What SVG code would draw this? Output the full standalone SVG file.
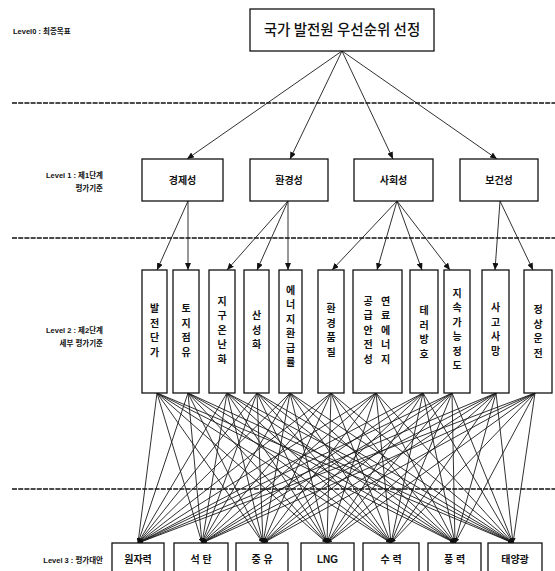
<svg xmlns="http://www.w3.org/2000/svg" width="555" height="571" viewBox="0 0 555 571">
<defs>
<style>
.box{fill:#fff;stroke:#111;stroke-width:1.3}
.sep{stroke:#111;stroke-width:1.7;stroke-dasharray:5 1.2;fill:none}
.c{stroke:#1a1a1a;stroke-width:0.9;fill:none}
.lv{font-family:"Liberation Sans","Noto Sans CJK KR",sans-serif;font-size:7.5px;font-weight:bold;fill:#111}
.t0{font-family:"Noto Sans CJK KR",sans-serif;font-size:14.5px;font-weight:500;fill:#111;text-anchor:middle}
.t1{font-family:"Noto Sans CJK KR",sans-serif;font-size:10px;font-weight:bold;fill:#111;text-anchor:middle}
.t2{font-family:"Noto Sans CJK KR",sans-serif;font-size:10px;font-weight:bold;fill:#111;text-anchor:middle}
.t3{font-family:"Liberation Sans","Noto Sans CJK KR",sans-serif;font-size:10px;font-weight:bold;fill:#111;text-anchor:middle}
</style>
<marker id="ah" markerWidth="7" markerHeight="6" refX="7" refY="3" orient="auto" markerUnits="userSpaceOnUse">
<path d="M0,0 L7,3 L0,6 Z" fill="#111"/>
</marker>
<marker id="as" markerWidth="5" markerHeight="4" refX="5" refY="2" orient="auto" markerUnits="userSpaceOnUse">
<path d="M0,0 L5,2 L0,4 Z" fill="#111"/>
</marker>
</defs>
<rect width="555" height="571" fill="#fff"/>

<g id="separators">
<line class="sep" x1="12" y1="103" x2="555" y2="103"/>
<line class="sep" x1="12" y1="238" x2="555" y2="238"/>
<line class="sep" x1="12" y1="489" x2="555" y2="489"/>
</g>

<g id="level-labels">
<text class="lv" x="13" y="34">Level0 : 최종목표</text>
<text class="lv" x="103" y="178" text-anchor="end">Level 1 : 제1단계</text>
<text class="lv" x="103" y="191" text-anchor="end">평가기준</text>
<text class="lv" x="103" y="333" text-anchor="end">Level 2 : 제2단계</text>
<text class="lv" x="103" y="346" text-anchor="end">세부 평가기준</text>
<text class="lv" x="103" y="563" text-anchor="end">Level 3 : 평가대안</text>
</g>

<g id="connectors">
<g marker-end="url(#ah)">
<line class="c" x1="342" y1="51" x2="187" y2="159"/>
<line class="c" x1="342" y1="51" x2="290" y2="159"/>
<line class="c" x1="342" y1="51" x2="393" y2="159"/>
<line class="c" x1="342" y1="51" x2="497" y2="159"/>
<line class="c" x1="188" y1="201" x2="157" y2="270"/>
<line class="c" x1="188" y1="201" x2="188" y2="270"/>
<line class="c" x1="288" y1="201" x2="227" y2="270"/>
<line class="c" x1="288" y1="201" x2="257" y2="270"/>
<line class="c" x1="288" y1="201" x2="288" y2="270"/>
<line class="c" x1="397" y1="201" x2="332" y2="270"/>
<line class="c" x1="397" y1="201" x2="377" y2="270"/>
<line class="c" x1="397" y1="201" x2="422" y2="270"/>
<line class="c" x1="397" y1="201" x2="450" y2="270"/>
<line class="c" x1="500" y1="201" x2="495" y2="270"/>
<line class="c" x1="500" y1="201" x2="533" y2="270"/>
</g>
<g marker-end="url(#as)">
<line class="c" x1="157" y1="393" x2="138" y2="543"/><line class="c" x1="157" y1="393" x2="202" y2="543"/><line class="c" x1="157" y1="393" x2="263" y2="543"/><line class="c" x1="157" y1="393" x2="327" y2="543"/><line class="c" x1="157" y1="393" x2="391" y2="543"/><line class="c" x1="157" y1="393" x2="455" y2="543"/><line class="c" x1="157" y1="393" x2="513" y2="543"/>
<line class="c" x1="188" y1="393" x2="138" y2="543"/><line class="c" x1="188" y1="393" x2="202" y2="543"/><line class="c" x1="188" y1="393" x2="263" y2="543"/><line class="c" x1="188" y1="393" x2="327" y2="543"/><line class="c" x1="188" y1="393" x2="391" y2="543"/><line class="c" x1="188" y1="393" x2="455" y2="543"/><line class="c" x1="188" y1="393" x2="513" y2="543"/>
<line class="c" x1="227" y1="393" x2="138" y2="543"/><line class="c" x1="227" y1="393" x2="202" y2="543"/><line class="c" x1="227" y1="393" x2="263" y2="543"/><line class="c" x1="227" y1="393" x2="327" y2="543"/><line class="c" x1="227" y1="393" x2="391" y2="543"/><line class="c" x1="227" y1="393" x2="455" y2="543"/><line class="c" x1="227" y1="393" x2="513" y2="543"/>
<line class="c" x1="257" y1="393" x2="138" y2="543"/><line class="c" x1="257" y1="393" x2="202" y2="543"/><line class="c" x1="257" y1="393" x2="263" y2="543"/><line class="c" x1="257" y1="393" x2="327" y2="543"/><line class="c" x1="257" y1="393" x2="391" y2="543"/><line class="c" x1="257" y1="393" x2="455" y2="543"/><line class="c" x1="257" y1="393" x2="513" y2="543"/>
<line class="c" x1="290" y1="393" x2="138" y2="543"/><line class="c" x1="290" y1="393" x2="202" y2="543"/><line class="c" x1="290" y1="393" x2="263" y2="543"/><line class="c" x1="290" y1="393" x2="327" y2="543"/><line class="c" x1="290" y1="393" x2="391" y2="543"/><line class="c" x1="290" y1="393" x2="455" y2="543"/><line class="c" x1="290" y1="393" x2="513" y2="543"/>
<line class="c" x1="331" y1="393" x2="138" y2="543"/><line class="c" x1="331" y1="393" x2="202" y2="543"/><line class="c" x1="331" y1="393" x2="263" y2="543"/><line class="c" x1="331" y1="393" x2="327" y2="543"/><line class="c" x1="331" y1="393" x2="391" y2="543"/><line class="c" x1="331" y1="393" x2="455" y2="543"/><line class="c" x1="331" y1="393" x2="513" y2="543"/>
<line class="c" x1="376" y1="393" x2="138" y2="543"/><line class="c" x1="376" y1="393" x2="202" y2="543"/><line class="c" x1="376" y1="393" x2="263" y2="543"/><line class="c" x1="376" y1="393" x2="327" y2="543"/><line class="c" x1="376" y1="393" x2="391" y2="543"/><line class="c" x1="376" y1="393" x2="455" y2="543"/><line class="c" x1="376" y1="393" x2="513" y2="543"/>
<line class="c" x1="423" y1="393" x2="138" y2="543"/><line class="c" x1="423" y1="393" x2="202" y2="543"/><line class="c" x1="423" y1="393" x2="263" y2="543"/><line class="c" x1="423" y1="393" x2="327" y2="543"/><line class="c" x1="423" y1="393" x2="391" y2="543"/><line class="c" x1="423" y1="393" x2="455" y2="543"/><line class="c" x1="423" y1="393" x2="513" y2="543"/>
<line class="c" x1="452" y1="393" x2="138" y2="543"/><line class="c" x1="452" y1="393" x2="202" y2="543"/><line class="c" x1="452" y1="393" x2="263" y2="543"/><line class="c" x1="452" y1="393" x2="327" y2="543"/><line class="c" x1="452" y1="393" x2="391" y2="543"/><line class="c" x1="452" y1="393" x2="455" y2="543"/><line class="c" x1="452" y1="393" x2="513" y2="543"/>
<line class="c" x1="496" y1="393" x2="138" y2="543"/><line class="c" x1="496" y1="393" x2="202" y2="543"/><line class="c" x1="496" y1="393" x2="263" y2="543"/><line class="c" x1="496" y1="393" x2="327" y2="543"/><line class="c" x1="496" y1="393" x2="391" y2="543"/><line class="c" x1="496" y1="393" x2="455" y2="543"/><line class="c" x1="496" y1="393" x2="513" y2="543"/>
<line class="c" x1="535" y1="393" x2="138" y2="543"/><line class="c" x1="535" y1="393" x2="202" y2="543"/><line class="c" x1="535" y1="393" x2="263" y2="543"/><line class="c" x1="535" y1="393" x2="327" y2="543"/><line class="c" x1="535" y1="393" x2="391" y2="543"/><line class="c" x1="535" y1="393" x2="455" y2="543"/><line class="c" x1="535" y1="393" x2="513" y2="543"/>
</g>
</g>

<g id="goal"><rect class="box" x="250" y="9" width="184" height="42"/><text class="t0" x="342" y="35">국가 발전원 우선순위 선정</text></g>

<g id="c-economy"><rect class="box" x="142" y="159" width="81" height="42"/><text class="t1" x="182.5" y="184">경제성</text></g>
<g id="c-environment"><rect class="box" x="250" y="159" width="78" height="42"/><text class="t1" x="289" y="184">환경성</text></g>
<g id="c-social"><rect class="box" x="354" y="159" width="79" height="42"/><text class="t1" x="393.5" y="184">사회성</text></g>
<g id="c-health"><rect class="box" x="460" y="159" width="78" height="42"/><text class="t1" x="499" y="184">보건성</text></g>

<g id="s1"><rect class="box" x="142" y="270" width="25" height="123"/><text class="t2"><tspan x="154.5" y="312">발</tspan><tspan x="154.5" dy="14.5">전</tspan><tspan x="154.5" dy="14.5">단</tspan><tspan x="154.5" dy="14.5">가</tspan></text></g>
<g id="s2"><rect class="box" x="173" y="270" width="26" height="123"/><text class="t2"><tspan x="186" y="312">토</tspan><tspan x="186" dy="14.5">지</tspan><tspan x="186" dy="14.5">점</tspan><tspan x="186" dy="14.5">유</tspan></text></g>
<g id="s3"><rect class="box" x="209" y="270" width="26" height="123"/><text class="t2"><tspan x="222" y="304.7">지</tspan><tspan x="222" dy="14.5">구</tspan><tspan x="222" dy="14.5">온</tspan><tspan x="222" dy="14.5">난</tspan><tspan x="222" dy="14.5">화</tspan></text></g>
<g id="s4"><rect class="box" x="244" y="270" width="25" height="123"/><text class="t2"><tspan x="256.5" y="319.2">산</tspan><tspan x="256.5" dy="14.5">성</tspan><tspan x="256.5" dy="14.5">화</tspan></text></g>
<g id="s5"><rect class="box" x="279" y="270" width="23" height="123"/><text class="t2"><tspan x="290.5" y="293.5">에</tspan><tspan x="290.5" dy="14.5">너</tspan><tspan x="290.5" dy="14.5">지</tspan><tspan x="290.5" dy="14.5">환</tspan><tspan x="290.5" dy="14.5">급</tspan><tspan x="290.5" dy="14.5">률</tspan></text></g>
<g id="s6"><rect class="box" x="318" y="270" width="26" height="123"/><text class="t2"><tspan x="331" y="312">환</tspan><tspan x="331" dy="14.5">경</tspan><tspan x="331" dy="14.5">품</tspan><tspan x="331" dy="14.5">질</tspan></text></g>
<g id="s7"><rect class="box" x="353" y="270" width="49" height="123"/><text class="t2"><tspan x="385.5" y="304.7">연</tspan><tspan x="385.5" dy="14.5">료</tspan><tspan x="385.5" dy="14.5">에</tspan><tspan x="385.5" dy="14.5">너</tspan><tspan x="385.5" dy="14.5">지</tspan></text><text class="t2"><tspan x="368" y="304.7">공</tspan><tspan x="368" dy="14.5">급</tspan><tspan x="368" dy="14.5">안</tspan><tspan x="368" dy="14.5">전</tspan><tspan x="368" dy="14.5">성</tspan></text></g>
<g id="s8"><rect class="box" x="410" y="270" width="28" height="123"/><text class="t2"><tspan x="424" y="314">테</tspan><tspan x="424" dy="14.5">러</tspan><tspan x="424" dy="14.5">방</tspan><tspan x="424" dy="14.5">호</tspan></text></g>
<g id="s9"><rect class="box" x="444" y="270" width="26" height="123"/><text class="t2"><tspan x="457" y="296.5">지</tspan><tspan x="457" dy="14.5">속</tspan><tspan x="457" dy="14.5">가</tspan><tspan x="457" dy="14.5">능</tspan><tspan x="457" dy="14.5">정</tspan><tspan x="457" dy="14.5">도</tspan></text></g>
<g id="s10"><rect class="box" x="482" y="270" width="27" height="123"/><text class="t2"><tspan x="495.5" y="311">사</tspan><tspan x="495.5" dy="14.5">고</tspan><tspan x="495.5" dy="14.5">사</tspan><tspan x="495.5" dy="14.5">망</tspan></text></g>
<g id="s11"><rect class="box" x="524" y="270" width="28" height="123"/><text class="t2"><tspan x="538" y="313">정</tspan><tspan x="538" dy="14.5">상</tspan><tspan x="538" dy="14.5">운</tspan><tspan x="538" dy="14.5">전</tspan></text></g>

<g id="a-nuclear"><rect class="box" x="112" y="543" width="52" height="34"/><text class="t3" x="138" y="563">원자력</text></g>
<g id="a-coal"><rect class="box" x="174" y="543" width="54" height="34"/><text class="t3" x="201" y="563">석 탄</text></g>
<g id="a-oil"><rect class="box" x="236" y="543" width="52" height="34"/><text class="t3" x="262" y="563">중 유</text></g>
<g id="a-lng"><rect class="box" x="301" y="543" width="53" height="34"/><text class="t3" x="327.5" y="563">LNG</text></g>
<g id="a-hydro"><rect class="box" x="363" y="543" width="56" height="34"/><text class="t3" x="391" y="563">수 력</text></g>
<g id="a-wind"><rect class="box" x="428" y="543" width="53" height="34"/><text class="t3" x="454.5" y="563">풍 력</text></g>
<g id="a-solar"><rect class="box" x="488" y="543" width="54" height="34"/><text class="t3" x="515" y="563">태양광</text></g>
</svg>
